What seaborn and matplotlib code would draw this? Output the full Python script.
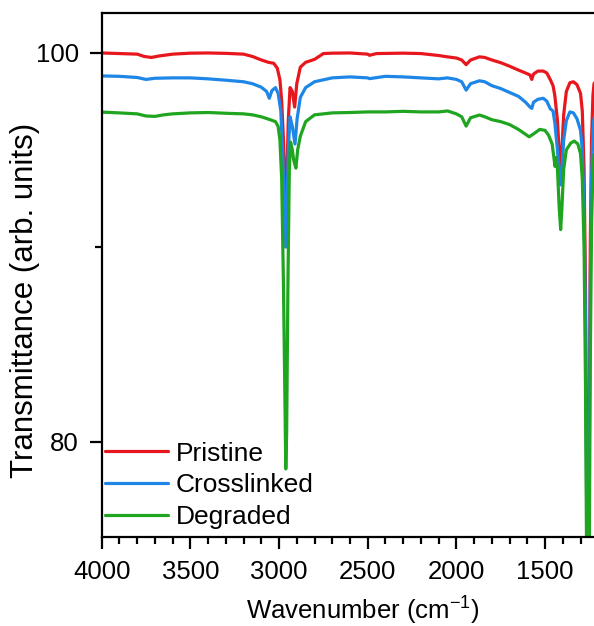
import numpy as np
import pandas as pd
import matplotlib
matplotlib.use("Agg")
import matplotlib.pyplot as plt
import seaborn as sns
from matplotlib.ticker import MultipleLocator, FixedLocator

# FTIR transmittance spectra (wavenumber in cm^-1, transmittance in arb. units)
pristine_wn = [4000, 3900, 3800, 3760, 3720, 3680, 3600, 3500, 3400, 3300, 3200, 3150,
               3100, 3060, 3030, 3010, 2995, 2985, 2975, 2966, 2962, 2956, 2948, 2938,
               2925, 2912, 2900, 2880, 2850, 2800, 2750, 2700, 2600, 2500, 2490, 2450,
               2300, 2200, 2100, 2050, 2000, 1970, 1945, 1920, 1870, 1840, 1800, 1750,
               1700, 1650, 1610, 1585, 1575, 1565, 1540, 1510, 1490, 1470, 1455, 1445,
               1430, 1418, 1412, 1405, 1395, 1380, 1360, 1340, 1320, 1300, 1290, 1280,
               1272, 1265, 1260, 1255, 1250, 1245, 1238, 1230, 1224, 1210]
pristine_t = [99.98, 99.95, 99.92, 99.80, 99.75, 99.82, 99.92, 99.97, 99.98, 99.96, 99.92, 99.80,
              99.62, 99.50, 99.45, 99.20, 98.6, 97.5, 95.5, 93.0, 91.8, 93.5, 96.5, 98.2,
              98.0, 97.2, 98.4, 99.25, 99.5, 99.65, 99.95, 99.97, 99.98, 99.92, 99.86, 99.95,
              99.97, 99.95, 99.85, 99.78, 99.72, 99.62, 99.38, 99.62, 99.78, 99.75, 99.62, 99.48,
              99.30, 99.10, 98.95, 98.85, 98.62, 98.90, 99.05, 99.05, 98.95, 98.60, 98.30, 97.80,
              96.5, 94.5, 94.1, 95.0, 96.8, 98.0, 98.45, 98.50, 98.35, 97.9, 97.0, 94.0,
              88.0, 78.0, 72.0, 74.0, 82.0, 90.0, 95.5, 97.8, 98.4, 98.6]

crosslinked_wn = [4000, 3900, 3800, 3750, 3700, 3600, 3500, 3400, 3300, 3200, 3150, 3100,
                  3070, 3055, 3040, 3020, 3005, 2990, 2978, 2968, 2962, 2956, 2948, 2938,
                  2925, 2910, 2898, 2880, 2850, 2800, 2750, 2700, 2600, 2500, 2490, 2400,
                  2300, 2200, 2100, 2050, 2000, 1970, 1945, 1920, 1870, 1840, 1800, 1750,
                  1700, 1650, 1610, 1585, 1575, 1565, 1540, 1510, 1490, 1470, 1455, 1445,
                  1430, 1418, 1412, 1405, 1395, 1380, 1360, 1340, 1320, 1300, 1290, 1280,
                  1272, 1265, 1260, 1255, 1250, 1245, 1238, 1230, 1224, 1210]
crosslinked_t = [98.80, 98.78, 98.72, 98.62, 98.68, 98.70, 98.70, 98.65, 98.58, 98.50, 98.40, 98.22,
                 98.00, 97.65, 98.05, 98.20, 97.9, 97.0, 94.5, 91.5, 90.0, 91.8, 95.0, 96.7,
                 96.2, 95.3, 96.6, 97.7, 98.2, 98.5, 98.6, 98.7, 98.75, 98.70, 98.66, 98.78,
                 98.75, 98.70, 98.65, 98.70, 98.62, 98.50, 98.07, 98.40, 98.55, 98.50, 98.30, 98.15,
                 97.95, 97.75, 97.45, 97.20, 97.13, 97.45, 97.60, 97.65, 97.50, 97.10, 97.00, 96.40,
                 95.0, 93.5, 93.2, 94.0, 95.5, 96.5, 96.95, 96.90, 96.6, 96.0, 95.0, 92.0,
                 86.0, 76.0, 71.0, 73.0, 80.0, 88.0, 93.5, 96.0, 96.6, 96.9]

degraded_wn = [4000, 3900, 3800, 3750, 3700, 3650, 3600, 3500, 3400, 3300, 3200, 3150,
               3100, 3050, 3020, 3005, 2995, 2985, 2975, 2968, 2962, 2957, 2950, 2942,
               2935, 2925, 2918, 2905, 2895, 2880, 2850, 2800, 2750, 2700, 2600, 2500,
               2400, 2300, 2200, 2100, 2050, 2000, 1970, 1945, 1920, 1870, 1840, 1800,
               1750, 1700, 1650, 1610, 1590, 1560, 1530, 1500, 1480, 1460, 1450, 1444,
               1438, 1430, 1420, 1412, 1405, 1395, 1380, 1355, 1335, 1315, 1300, 1290,
               1280, 1272, 1265, 1260, 1255, 1250, 1245, 1238, 1230, 1224, 1210]
degraded_t = [96.94, 96.90, 96.85, 96.74, 96.72, 96.80, 96.85, 96.90, 96.92, 96.88, 96.85, 96.80,
              96.70, 96.55, 96.45, 96.2, 95.5, 93.5, 88.0, 83.0, 78.6, 80.5, 88.0, 94.0,
              95.4, 95.0, 94.5, 94.06, 95.0, 95.7, 96.45, 96.8, 96.85, 96.9, 96.92, 96.95,
              96.95, 96.98, 96.95, 96.95, 97.0, 96.85, 96.70, 96.22, 96.65, 96.79, 96.70, 96.55,
              96.45, 96.30, 96.05, 95.80, 95.67, 95.85, 96.05, 96.0, 95.75, 95.3, 94.6, 94.15,
              94.6, 94.0, 92.0, 90.9, 92.0, 94.0, 95.0, 95.35, 95.45, 95.3, 94.8, 93.5,
              90.0, 83.0, 73.0, 65.0, 68.0, 75.0, 84.0, 91.0, 94.0, 94.7, 95.0]

samples = ["Pristine", "Crosslinked", "Degraded"]
colors = ["#e8171d", "#1e86e6", "#1fa51f"]

df = pd.concat([
    pd.DataFrame({"wn": pristine_wn, "T": pristine_t, "sample": samples[0]}),
    pd.DataFrame({"wn": crosslinked_wn, "T": crosslinked_t, "sample": samples[1]}),
    pd.DataFrame({"wn": degraded_wn, "T": degraded_t, "sample": samples[2]}),
], ignore_index=True)

sns.set_theme(style="ticks")
plt.rcParams["font.family"] = ["Liberation Sans", "DejaVu Sans"]
plt.rcParams["mathtext.default"] = "regular"
plt.rcParams["text.color"] = "black"
plt.rcParams["axes.labelcolor"] = "black"
plt.rcParams["xtick.color"] = "black"
plt.rcParams["ytick.color"] = "black"

fig = plt.figure(figsize=(5.94, 6.26), dpi=100)
ax = fig.add_axes([101.7 / 594, 1 - 537 / 626, 1 - 101.7 / 594, (537 - 12.7) / 626])

sns.lineplot(data=df, x="wn", y="T", hue="sample", hue_order=samples,
             palette=colors, sort=False, estimator=None, linewidth=2.3, ax=ax)

ax.set_xlim(4000, 1224)
ax.set_ylim(75.1, 102.05)

ax.xaxis.set_major_locator(FixedLocator([4000, 3500, 3000, 2500, 2000, 1500]))
ax.xaxis.set_minor_locator(MultipleLocator(100))
ax.yaxis.set_major_locator(FixedLocator([80, 100]))
ax.yaxis.set_minor_locator(FixedLocator([90]))

for side in ["left", "bottom", "top"]:
    ax.spines[side].set_linewidth(1.6)
    ax.spines[side].set_color("black")
ax.spines["right"].set_visible(False)

ax.tick_params(axis="both", which="major", direction="out", length=8.5, width=1.6,
               labelsize=18.5, colors="black", pad=8)
ax.tick_params(axis="both", which="minor", direction="out", length=5, width=1.6, colors="black")
ax.tick_params(top=False, right=False, which="both")

ax.set_xlabel("Wavenumber (cm$^{-1}$)", fontsize=18.5, labelpad=7.5)
ax.xaxis.label.set_x(0.53)
ax.set_ylabel("Transmittance (arb. units)", fontsize=22.5)
ax.yaxis.set_label_coords(-0.125, 0.452)

leg = ax.legend(loc="upper left", bbox_to_anchor=(0.006, 0.182), frameon=False,
                fontsize=19, handlelength=2.4, handletextpad=0.3, labelspacing=0.29,
                borderaxespad=0, borderpad=0)
for line in leg.get_lines():
    line.set_linewidth(2.3)

fig.savefig("out.png", dpi=100)
